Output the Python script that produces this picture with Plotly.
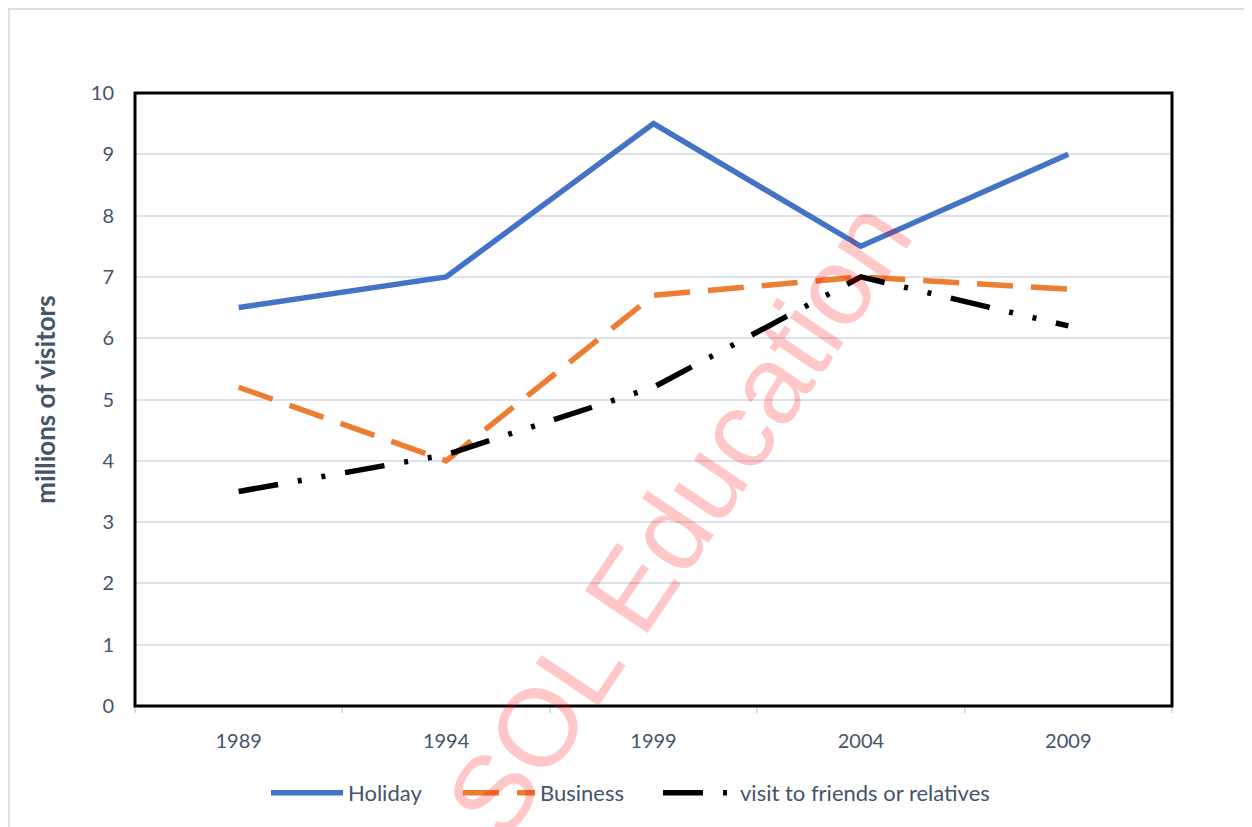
import plotly.graph_objects as go

years = ["1989", "1994", "1999", "2004", "2009"]
holiday = [6.5, 7.0, 9.5, 7.5, 9.0]
business = [5.2, 4.0, 6.7, 7.0, 6.8]
visit = [3.5, 4.1, 5.2, 7.0, 6.2]

# page is rendered with an 8px body margin
OFF = 8
W, H = 1252 - OFF, 827 - OFF
L, R, T, B = 135, 1172, 93, 706  # plot area in page pixels
pw, ph = R - L, B - T

def px(x):
    return (x - L) / pw

def py(y):
    return (B - y) / ph

FONT = "Lato, Carlito, Calibri, sans-serif"

fig = go.Figure()
fig.add_trace(go.Scatter(x=years, y=holiday, mode="lines", name="Holiday", legendwidth=105,
                         line=dict(color="#4472C4", width=5.5)))
fig.add_trace(go.Scatter(x=years, y=business, mode="lines", name="Business", legendwidth=113,
                         line=dict(color="#ED7D31", width=5.5, dash="36px,18px")))
fig.add_trace(go.Scatter(x=years, y=visit, mode="lines", name="visit to friends or relatives",
                         line=dict(color="#000000", width=5.5, dash="40px,20px,4px,20px,4px,20px")))

tickfont = dict(family=FONT, size=20, color="#44546A")

fig.update_layout(
    width=W, height=H,
    margin=dict(l=L - OFF, r=W - (R - OFF), t=T - OFF, b=H - (B - OFF), autoexpand=False),
    paper_bgcolor="white", plot_bgcolor="white",
    showlegend=True,
    legend=dict(orientation="h", x=px(266), xanchor="left", y=py(793), yanchor="middle",
                font=dict(family=FONT, size=22, color="#44546A"),
                itemwidth=72, bgcolor="rgba(0,0,0,0)", tracegroupgap=0),
    xaxis=dict(type="category", range=[-0.5, 4.5], tickson="boundaries", ticks="outside", ticklen=6,
               tickcolor="#D9DEE6", tickwidth=1.5, showline=True, linecolor="#7F7F7F", linewidth=1,
               showgrid=False, tickfont=tickfont, ticklabelstandoff=17, zeroline=False),
    yaxis=dict(range=[0, 10], dtick=1, showgrid=True, gridcolor="#DDE2EA", gridwidth=1.5,
               tickfont=tickfont, ticklabelstandoff=20, zeroline=False, showline=False,
               title=dict(text="<b>millions of visitors</b>",
                          font=dict(family=FONT, size=26, color="#44546A"),
                          standoff=27)),
    shapes=[
        dict(type="rect", xref="paper", yref="paper", x0=0, x1=1, y0=0, y1=1,
             line=dict(color="black", width=3), layer="above"),
        dict(type="rect", xref="paper", yref="paper", x0=px(9), x1=px(1265), y0=py(9), y1=py(840),
             line=dict(color="#D9DEE6", width=2), layer="below"),
    ],
    annotations=[
        dict(text="SOL Education", xref="paper", yref="paper", x=px(678), y=py(518),
             xanchor="center", yanchor="middle",
             showarrow=False, textangle=-56,
             font=dict(family="Liberation Sans, Arial, sans-serif", size=110, color="rgba(255,0,0,0.22)"))
    ],
)

fig.write_html("out.html")
